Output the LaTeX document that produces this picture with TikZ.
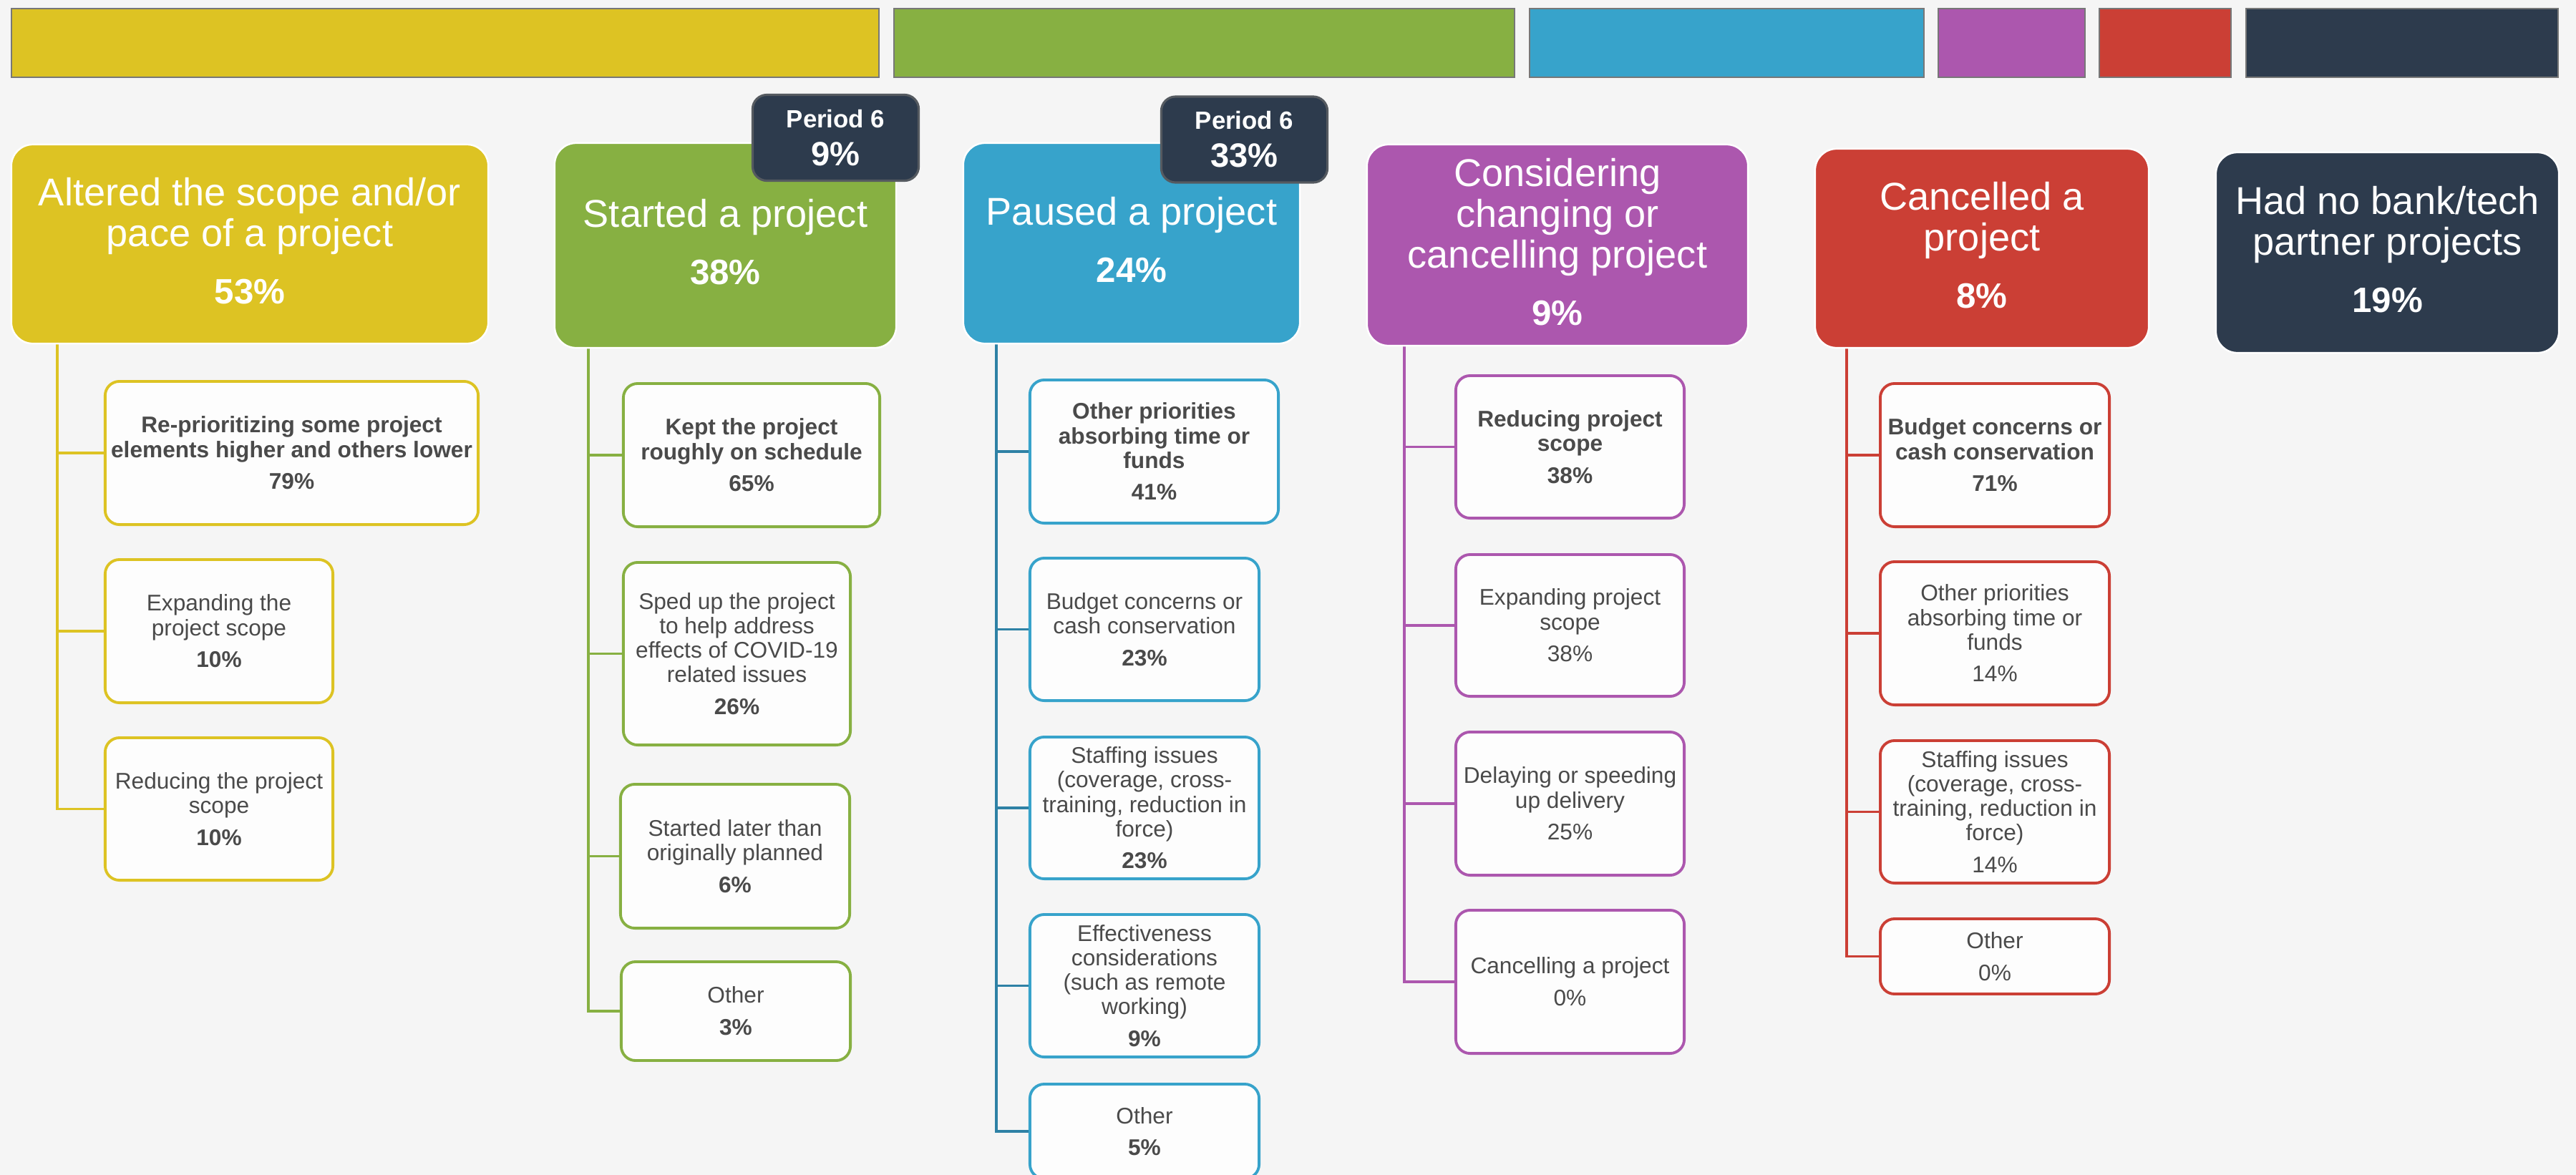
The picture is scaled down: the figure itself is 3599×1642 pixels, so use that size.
\documentclass[tikz,border=0pt]{standalone}
\usepackage{fontspec}
\setmainfont{Liberation Sans}
\definecolor{cBg}{HTML}{F5F5F5}
\definecolor{cY}{HTML}{DDC323}
\definecolor{cG}{HTML}{87B042}
\definecolor{cB}{HTML}{37A3CB}
\definecolor{cBt}{HTML}{2E81A5}
\definecolor{cP}{HTML}{AC57AE}
\definecolor{cR}{HTML}{CB3F35}
\definecolor{cN}{HTML}{2D3B4D}
\definecolor{cT}{HTML}{4A4A4A}
\definecolor{cW}{HTML}{FDFDFD}
\definecolor{cBar}{HTML}{777777}
\definecolor{cBadge}{HTML}{555A60}
\newcommand{\hp}[1]{\textbf{\fontsize{14}{16}\selectfont #1}\rule[-2.8pt]{0pt}{1pt}}
\newcommand{\bp}[1]{\textbf{#1}}
\begin{document}
\begin{tikzpicture}[x=0.01cm,y=-0.01cm,
  bar/.style={draw=cBar, line width=0.5pt, fill=#1, inner sep=0pt, minimum height=0.96cm},
  hdr/.style={rounded corners=0.3cm, fill=#1, draw=white, line width=0.7pt, inner sep=0pt, text=white, align=center, font=\fontsize{15.4}{16.2}\selectfont},
  badge/.style={rounded corners=0.2cm, fill=cN, draw=cBadge, line width=0.9pt, inner sep=0pt, text=white, align=center, minimum width=2.32cm, minimum height=1.2cm},
  cbox/.style={rounded corners=0.2cm, fill=cW, draw=#1, line width=1.1pt, inner sep=0pt, text=cT, align=center, font=\fontsize{9}{9.7}\selectfont},
  trunk/.style={draw=#1, line width=1pt}
]
\useasboundingbox[fill=cBg] (0,0) rectangle (3599,1642);
\clip (0,0) rectangle (3599,1642);

% top bars
\node[bar=cY, minimum width=12.12cm] (b1) at (622,60) {};
\node[bar=cG, minimum width=8.67cm] (b2) at (1682.5,60) {};
\node[bar=cB, minimum width=5.51cm] (b3) at (2412.5,60) {};
\node[bar=cP, minimum width=2.05cm] (b4) at (2810.5,60) {};
\node[bar=cR, minimum width=1.84cm] (b5) at (3025,60) {};
\node[bar=cN, minimum width=4.36cm] (b6) at (3356,60) {};

% trunk tops
\coordinate (yT) at (80,480);
\coordinate (gT) at (822,486);
\coordinate (bT) at (1392,480);
\coordinate (pT) at (1962,483);
\coordinate (rT) at (2580,486);

% children: yellow
\node[cbox=cY, minimum width=5.21cm, minimum height=2cm] (y1) at (407.5,633) {\bp{Re-prioritizing some project}\\\bp{elements higher and others lower}\\[3pt]\bp{79\%}};
\node[cbox=cY, minimum width=3.18cm, minimum height=2cm] (y2) at (306,882) {Expanding the\\project scope\\[3pt]\bp{10\%}};
\node[cbox=cY, minimum width=3.18cm, minimum height=1.99cm] (y3) at (306,1130.5) {Reducing the project\\scope\\[3pt]\bp{10\%}};
% green
\node[cbox=cG, minimum width=3.58cm, minimum height=2cm] (g1) at (1050,636) {\bp{Kept the project}\\\bp{roughly on schedule}\\[3pt]\bp{65\%}};
\node[cbox=cG, minimum width=3.17cm, minimum height=2.55cm] (g2) at (1029.5,913.5) {Sped up the project\\to help address\\effects of COVID-19\\related issues\\[3pt]\bp{26\%}};
\node[cbox=cG, minimum width=3.2cm, minimum height=2.01cm] (g3) at (1027,1196.5) {Started later than\\originally planned\\[3pt]\bp{6\%}};
\node[cbox=cG, minimum width=3.2cm, minimum height=1.38cm] (g4) at (1028,1413) {Other\\[3pt]\bp{3\%}};
% blue
\node[cbox=cB, minimum width=3.47cm, minimum height=2cm] (c1) at (1612.5,631) {\bp{Other priorities}\\\bp{absorbing time or}\\\bp{funds}\\[3pt]\bp{41\%}};
\node[cbox=cB, minimum width=3.2cm, minimum height=1.99cm] (c2) at (1599,879.5) {Budget concerns or\\cash conservation\\[3pt]\bp{23\%}};
\node[cbox=cB, minimum width=3.2cm, minimum height=1.98cm] (c3) at (1599,1129) {Staffing issues\\(coverage, cross-\\training, reduction in\\force)\\[3pt]\bp{23\%}};
\node[cbox=cB, minimum width=3.2cm, minimum height=1.99cm] (c4) at (1599,1377.5) {Effectiveness\\considerations\\(such as remote\\working)\\[3pt]\bp{9\%}};
\node[cbox=cB, minimum width=3.2cm, minimum height=1.32cm] (c5) at (1599,1581) {Other\\[3pt]\bp{5\%}};
% purple
\node[cbox=cP, minimum width=3.19cm, minimum height=1.99cm] (p1) at (2193.5,624.5) {\bp{Reducing project}\\\bp{scope}\\[3pt]\bp{38\%}};
\node[cbox=cP, minimum width=3.19cm, minimum height=1.98cm] (p2) at (2193.5,874) {Expanding project\\scope\\[3pt]38\%};
\node[cbox=cP, minimum width=3.19cm, minimum height=2cm] (p3) at (2193.5,1123) {Delaying or speeding\\up delivery\\[3pt]25\%};
\node[cbox=cP, minimum width=3.19cm, minimum height=2cm] (p4) at (2193.5,1372) {Cancelling a project\\[3pt]0\%};
% red
\node[cbox=cR, minimum width=3.2cm, minimum height=2cm] (r1) at (2787,636) {\bp{Budget concerns or}\\\bp{cash conservation}\\[3pt]\bp{71\%}};
\node[cbox=cR, minimum width=3.2cm, minimum height=2cm] (r2) at (2787,885) {Other priorities\\absorbing time or\\funds\\[3pt]14\%};
\node[cbox=cR, minimum width=3.2cm, minimum height=1.99cm] (r3) at (2787,1134.5) {Staffing issues\\(coverage, cross-\\training, reduction in\\force)\\[3pt]14\%};
\node[cbox=cR, minimum width=3.2cm, minimum height=1.05cm] (r4) at (2787,1336.5) {Other\\[3pt]0\%};

% connectors
\foreach \n in {y1,y2,y3} \draw[trunk=cY] (yT) |- (\n.west);
\foreach \n in {g1,g2,g3,g4} \draw[trunk=cG] (gT) |- (\n.west);
\foreach \n in {c1,c2,c3,c4,c5} \draw[trunk=cBt] (bT) |- (\n.west);
\foreach \n in {p1,p2,p3,p4} \draw[trunk=cP] (pT) |- (\n.west);
\foreach \n in {r1,r2,r3,r4} \draw[trunk=cR] (rT) |- (\n.west);

% headers
\node[hdr=cY, minimum width=6.66cm, minimum height=2.78cm] (H1) at (349,341) {Altered the scope and/or\\pace of a project\\[6.6pt]\hp{53\%}};
\node[hdr=cG, minimum width=4.77cm, minimum height=2.86cm] (H2) at (1013.5,343) {Started a project\\[6.6pt]\hp{38\%}};
\node[hdr=cB, minimum width=4.7cm, minimum height=2.8cm] (H3) at (1581,340) {Paused a project\\[6.6pt]\hp{24\%}};
\node[hdr=cP, minimum width=5.32cm, minimum height=2.81cm] (H4) at (2176,342.5) {Considering\\changing or\\cancelling project\\[6.6pt]\hp{9\%}};
\node[hdr=cR, minimum width=4.66cm, minimum height=2.78cm] (H5) at (2769,347) {Cancelled a\\project\\[6.6pt]\hp{8\%}};
\node[hdr=cN, minimum width=4.79cm, minimum height=2.8cm] (H6) at (3335.5,353) {Had no bank/tech\\partner projects\\[6.6pt]\hp{19\%}};

% badges
\node[badge] (B2) at (1167.5,192.5) {\textbf{\fontsize{9.9}{11}\selectfont Period 6}\\[3pt]\textbf{\fontsize{13.4}{15}\selectfont 9\%}};
\node[badge] (B3) at (1738.5,195) {\textbf{\fontsize{9.9}{11}\selectfont Period 6}\\[3pt]\textbf{\fontsize{13.4}{15}\selectfont 33\%}};
\end{tikzpicture}
\end{document}
